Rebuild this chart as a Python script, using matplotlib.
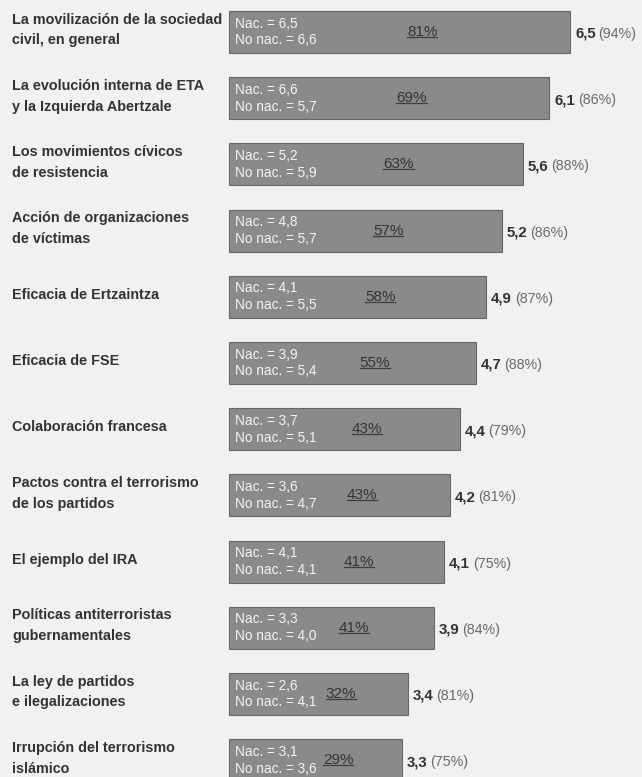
import matplotlib
matplotlib.use("Agg")
import matplotlib.pyplot as plt

# data
labels = [
    "La movilización de la sociedad\ncivil, en general",
    "La evolución interna de ETA\ny la Izquierda Abertzale",
    "Los movimientos cívicos\nde resistencia",
    "Acción de organizaciones\nde víctimas",
    "Eficacia de Ertzaintza",
    "Eficacia de FSE",
    "Colaboración francesa",
    "Pactos contra el terrorismo\nde los partidos",
    "El ejemplo del IRA",
    "Políticas antiterroristas\ngubernamentales",
    "La ley de partidos\ne ilegalizaciones",
    "Irrupción del terrorismo\nislámico",
]
total = [6.5, 6.1, 5.6, 5.2, 4.9, 4.7, 4.4, 4.2, 4.1, 3.9, 3.4, 3.3]
total_pct = [94, 86, 88, 86, 87, 88, 79, 81, 75, 84, 81, 75]
nac = [6.5, 6.6, 5.2, 4.8, 4.1, 3.9, 3.7, 3.6, 4.1, 3.3, 2.6, 3.1]
no_nac = [6.6, 5.7, 5.9, 5.7, 5.5, 5.4, 5.1, 4.7, 4.1, 4.0, 4.1, 3.6]
inner_pct = [81, 69, 63, 57, 58, 55, 43, 43, 41, 41, 32, 29]

BG = "#f1f1f1"
BAR = "#8a8a8a"
DARK = "#333333"

plt.rcParams["font.family"] = ["Liberation Sans", "DejaVu Sans"]


def fmt(v):
    return f"{v:.1f}".replace(".", ",")


fig = plt.figure(figsize=(6.42, 7.77), dpi=100, facecolor=BG)
ax = fig.add_axes([0, 0, 1, 1])
ax.set_facecolor(BG)
ax.axis("off")

# layout: zero at x=229px, 52.5px per unit, 66.2px per row
ax.set_xlim(-229 / 52.5, (642 - 229) / 52.5)
ax.set_ylim((777 - 32) / 66.2, -32 / 66.2)

ypos = list(range(len(labels)))
ax.barh(ypos, total, height=0.635, left=0, color=BAR,
        edgecolor="#666666", linewidth=0.8)

pct_texts = []
for i in ypos:
    ax.text(12 / 642, i - 0.03, labels[i], transform=ax.get_yaxis_transform(),
            ha="left", va="center", fontsize=10.4, fontweight="bold",
            color=DARK, linespacing=1.62)

    ax.annotate(f"Nac. = {fmt(nac[i])}\nNo nac. = {fmt(no_nac[i])}",
                xy=(0, i), xytext=(4.5, 0), textcoords="offset points",
                ha="left", va="center", fontsize=9.8, color="#f4f4f4",
                linespacing=1.25)

    pt = ax.text(total[i] / 2 + 0.43, i, f"{inner_pct[i]}%",
                 ha="center", va="center", fontsize=11, color="#343434")
    pct_texts.append(pt)

    t = ax.annotate(fmt(total[i]), xy=(total[i], i), xytext=(3.5, -4.3),
                    textcoords="offset points", ha="left", va="baseline",
                    fontsize=10.8, fontweight="bold", color=DARK)
    ax.annotate(f"({total_pct[i]}%)", xy=(1, i), xycoords=(t, "data"),
                xytext=(2, -4.3), textcoords="offset points", ha="left",
                va="baseline", fontsize=10.3, color="#6a6a6a")

# underline the inner percentages (taken from their rendered extents)
fig.canvas.draw()
inv = ax.transData.inverted()
for pt in pct_texts:
    bb = pt.get_window_extent()
    (x0, y0), (x1, _) = inv.transform([(bb.x0, bb.y0 + 2), (bb.x1, bb.y0 + 2)])
    ax.plot([x0, x1], [y0, y0], color="#3c3c3c", lw=0.9)

fig.savefig("out.png", dpi=100, facecolor=BG)
